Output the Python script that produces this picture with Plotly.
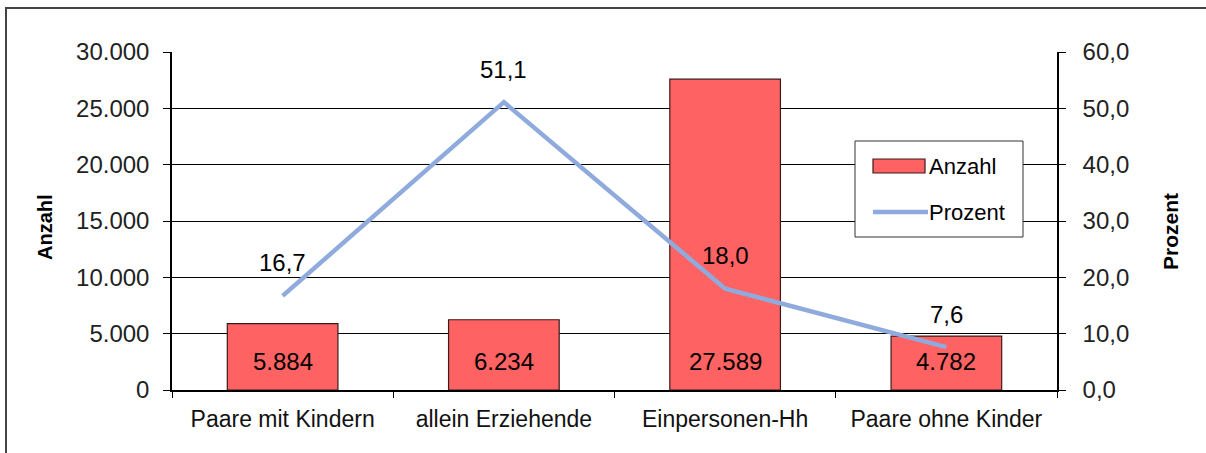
import plotly.graph_objects as go

categories = ["Paare mit Kindern", "allein Erziehende", "Einpersonen-Hh", "Paare ohne Kinder"]
anzahl = [5884, 6234, 27589, 4782]
prozent = [16.7, 51.1, 18.0, 7.6]
y1_ticks = [0, 5000, 10000, 15000, 20000, 25000, 30000]
y2_ticks = [0, 10, 20, 30, 40, 50, 60]
series_names = ["Anzahl", "Prozent"]

def de_int(v):
    return f"{v:,}".replace(",", ".")

def de_dec(v):
    return f"{v:.1f}".replace(".", ",")

W, H = 1206, 453
L, R, T, B = 172, 1057, 52, 390

def px(x):
    return (x - L) / (R - L)

def py(y):
    return (B - y) / (B - T)

BAR_COLOR = "#FF6262"
BAR_EDGE = "#3a1a1a"
LINE_COLOR = "#8FAADC"
FONT = "Liberation Sans, Arial, sans-serif"

fig = go.Figure()
fig.add_trace(go.Bar(
    x=categories, y=anzahl, name=series_names[0],
    marker=dict(color=BAR_COLOR, line=dict(color=BAR_EDGE, width=1.2)),
    width=0.5, yaxis="y",
))
fig.add_trace(go.Scatter(
    x=categories, y=prozent, name=series_names[1], mode="lines",
    line=dict(color=LINE_COLOR, width=4.5), yaxis="y2",
))

ann = []
for c, v in zip(categories, anzahl):
    ann.append(dict(x=c, y=0, xref="x", yref="y", text=de_int(v), showarrow=False,
                    yshift=29, font=dict(size=24, color="#000", family=FONT)))
for c, v in zip(categories, prozent):
    ann.append(dict(x=c, y=v, xref="x", yref="y2", text=de_dec(v), showarrow=False,
                    yshift=33, font=dict(size=24, color="#000", family=FONT)))
ann.append(dict(x=px(45), y=py(227), xref="paper", yref="paper", text="<b>Anzahl</b>",
                xanchor="center", yanchor="middle",
                textangle=-90, showarrow=False, font=dict(size=20, color="#000", family=FONT)))
ann.append(dict(x=px(1170), y=py(232), xref="paper", yref="paper", text="<b>Prozent</b>",
                xanchor="center", yanchor="middle",
                textangle=-90, showarrow=False, font=dict(size=21, color="#000", family=FONT)))
# legend texts
ann.append(dict(x=px(927), y=py(166), xref="paper", yref="paper", text=series_names[0],
                xanchor="left", yanchor="middle", showarrow=False,
                font=dict(size=22, color="#000", family=FONT)))
ann.append(dict(x=px(927), y=py(212), xref="paper", yref="paper", text=series_names[1],
                xanchor="left", yanchor="middle", showarrow=False,
                font=dict(size=22, color="#000", family=FONT)))

shapes = [
    # outer chart frame
    dict(type="rect", xref="paper", yref="paper", x0=px(6), x1=px(1230), y0=py(480), y1=py(8),
         line=dict(color="#444", width=2), fillcolor="rgba(0,0,0,0)", layer="below"),
    # legend box
    dict(type="rect", xref="paper", yref="paper", x0=px(855), x1=px(1023), y0=py(237), y1=py(141),
         line=dict(color="#333", width=1), fillcolor="white", layer="above"),
    dict(type="rect", xref="paper", yref="paper", x0=px(873), x1=px(925), y0=py(173), y1=py(159),
         line=dict(color=BAR_EDGE, width=1.2), fillcolor=BAR_COLOR, layer="above"),
    dict(type="line", xref="paper", yref="paper", x0=px(873), x1=px(928), y0=py(212), y1=py(212),
         line=dict(color=LINE_COLOR, width=4.5), layer="above"),
]

fig.update_layout(
    width=W, height=H,
    margin=dict(l=L, r=W - R, t=T, b=H - B),
    paper_bgcolor="white", plot_bgcolor="white",
    separators=",.",
    showlegend=False,
    xaxis=dict(type="category", tickson="boundaries", ticks="outside", ticklen=6, tickcolor="#000",
               showline=True, linecolor="#000", linewidth=1.5, showgrid=False,
               ticklabelstandoff=8,
               tickfont=dict(size=23, color="#111", family=FONT)),
    yaxis=dict(range=[0, 30000], tickvals=y1_ticks, ticktext=[de_int(v) for v in y1_ticks],
               ticks="outside", ticklen=7, tickcolor="#000", showline=True, linecolor="#000", linewidth=1.5,
               showgrid=True, gridcolor="#000", gridwidth=1, zeroline=False,
               ticklabelstandoff=9,
               tickfont=dict(size=24, color="#222", family=FONT)),
    yaxis2=dict(range=[0, 60], tickvals=y2_ticks, ticktext=[de_dec(v) for v in y2_ticks],
                overlaying="y", side="right", ticks="outside", ticklen=7, tickcolor="#000",
                showline=True, linecolor="#000", linewidth=1.5, showgrid=False, zeroline=False,
                ticklabelstandoff=12,
                tickfont=dict(size=24, color="#222", family=FONT)),
    annotations=ann,
    shapes=shapes,
)

fig.write_html("out.html", config={"displayModeBar": False},
               post_script="document.body.style.margin='0';")
